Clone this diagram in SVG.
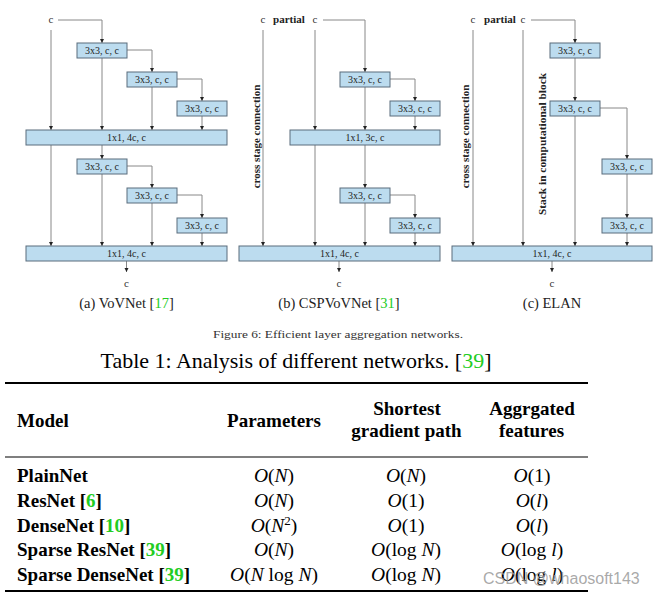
<svg xmlns="http://www.w3.org/2000/svg" width="657" height="597" viewBox="0 0 657 597">
<style>
.bx{fill:#bcdcef;stroke:#5a6c7c;stroke-width:1}
.bt{font-family:"Liberation Serif",serif;font-size:10px;fill:#222;text-anchor:middle}
.cl{font-family:"Liberation Serif",serif;font-size:11px;fill:#333;text-anchor:middle}
.pb{font-family:"Liberation Serif",serif;font-size:11px;font-weight:bold;fill:#222;text-anchor:middle}
.ln{fill:none;stroke:#888;stroke-width:1}
.ar{marker-end:url(#ah)}
.cap{font-family:"Liberation Serif",serif;font-size:14.5px;fill:#222;text-anchor:middle}
.g{fill:#22cc22}
.th{font-family:"Liberation Serif",serif;font-size:19px;font-weight:bold;fill:#000}
.tm{font-family:"Liberation Serif",serif;font-size:19.5px;fill:#000;text-anchor:middle}
.it{font-style:italic}
.rule{stroke:#000}
</style>
<defs>
<marker id="ah" viewBox="0 0 6 6" refX="6" refY="3" markerWidth="4.5" markerHeight="4.5" markerUnits="userSpaceOnUse" orient="auto">
<path d="M0,0 L6,3 L0,6 z" fill="#222"/>
</marker>
</defs>

<g id="connectors">
<!-- (a) -->
<path class="ln ar" d="M58,20 H102 V43"/>
<path class="ln ar" d="M51,30 V130"/>
<path class="ln ar" d="M102,58 V130"/>
<path class="ln ar" d="M127,50 H152 V72"/>
<path class="ln ar" d="M152,87 V130"/>
<path class="ln ar" d="M177,79 H202 V101"/>
<path class="ln ar" d="M202,116 V130"/>
<path class="ln ar" d="M51,145 V246"/>
<path class="ln ar" d="M102,145 V159"/>
<path class="ln ar" d="M127,166 H152 V188"/>
<path class="ln ar" d="M177,195 H202 V218"/>
<path class="ln ar" d="M102,174 V246"/>
<path class="ln ar" d="M152,203 V246"/>
<path class="ln ar" d="M202,233 V246"/>
<path class="ln ar" d="M126.5,261 V272"/>
<!-- (b) -->
<path class="ln ar" d="M323,20 H365 V72"/>
<path class="ln ar" d="M263,30 V246"/>
<path class="ln ar" d="M315,30 V130"/>
<path class="ln ar" d="M365,87 V130"/>
<path class="ln ar" d="M390,79 H415 V101"/>
<path class="ln ar" d="M415,116 V130"/>
<path class="ln ar" d="M315,145 V246"/>
<path class="ln ar" d="M365,145 V188"/>
<path class="ln ar" d="M390,195 H415 V218"/>
<path class="ln ar" d="M365,203 V246"/>
<path class="ln ar" d="M415,233 V246"/>
<path class="ln ar" d="M339,261 V272"/>
<!-- (c) -->
<path class="ln ar" d="M531,20 H575 V43"/>
<path class="ln ar" d="M473,30 V246"/>
<path class="ln ar" d="M523,30 V246"/>
<path class="ln ar" d="M575,58 V101"/>
<path class="ln ar" d="M600,108 H627 V159"/>
<path class="ln ar" d="M575,116 V246"/>
<path class="ln ar" d="M627,174 V218"/>
<path class="ln ar" d="M627,233 V246"/>
<path class="ln ar" d="M552,261 V272"/>
</g>

<!-- (a) VoVNet -->
<g id="a-in"><text class="cl" x="51" y="23">c</text></g>
<g id="a-b1"><rect class="bx" x="77" y="43" width="50" height="15"/><text class="bt" x="102" y="54">3x3, c, c</text></g>
<g id="a-b2"><rect class="bx" x="127" y="72" width="50" height="15"/><text class="bt" x="152" y="83">3x3, c, c</text></g>
<g id="a-b3"><rect class="bx" x="177" y="101" width="50" height="15"/><text class="bt" x="202" y="112">3x3, c, c</text></g>
<g id="a-t1"><rect class="bx" x="26" y="130" width="201" height="15"/><text class="bt" x="126.5" y="141">1x1, 4c, c</text></g>
<g id="a-b4"><rect class="bx" x="77" y="159" width="50" height="15"/><text class="bt" x="102" y="170">3x3, c, c</text></g>
<g id="a-b5"><rect class="bx" x="127" y="188" width="50" height="15"/><text class="bt" x="152" y="199">3x3, c, c</text></g>
<g id="a-b6"><rect class="bx" x="177" y="218" width="50" height="15"/><text class="bt" x="202" y="229">3x3, c, c</text></g>
<g id="a-t2"><rect class="bx" x="26" y="246" width="201" height="15"/><text class="bt" x="126.5" y="257">1x1, 4c, c</text></g>
<g id="a-out"><text class="cl" x="126.5" y="287">c</text></g>
<text class="cap" x="126.5" y="308">(a) VoVNet [<tspan class="g">17</tspan>]</text>

<!-- (b) CSPVoVNet -->
<g id="b-in"><text class="cl" x="263" y="23">c</text><text class="pb" x="289" y="23">partial</text><text class="cl" x="315" y="23">c</text></g>
<text class="pb" transform="translate(260,136.5) rotate(-90)" x="0" y="0">cross stage connection</text>
<g id="b-b1"><rect class="bx" x="340" y="72" width="50" height="15"/><text class="bt" x="365" y="83">3x3, c, c</text></g>
<g id="b-b2"><rect class="bx" x="390" y="101" width="50" height="15"/><text class="bt" x="415" y="112">3x3, c, c</text></g>
<g id="b-t1"><rect class="bx" x="290" y="130" width="150" height="15"/><text class="bt" x="365" y="141">1x1, 3c, c</text></g>
<g id="b-b3"><rect class="bx" x="340" y="188" width="50" height="15"/><text class="bt" x="365" y="199">3x3, c, c</text></g>
<g id="b-b4"><rect class="bx" x="390" y="218" width="50" height="15"/><text class="bt" x="415" y="229">3x3, c, c</text></g>
<g id="b-t2"><rect class="bx" x="239" y="246" width="201" height="15"/><text class="bt" x="339.5" y="257">1x1, 4c, c</text></g>
<g id="b-out"><text class="cl" x="339" y="287">c</text></g>
<text class="cap" x="339" y="308">(b) CSPVoVNet [<tspan class="g">31</tspan>]</text>

<!-- (c) ELAN -->
<g id="c-in"><text class="cl" x="473" y="23">c</text><text class="pb" x="500" y="23">partial</text><text class="cl" x="523" y="23">c</text></g>
<text class="pb" transform="translate(469,136.5) rotate(-90)" x="0" y="0">cross stage connection</text>
<text class="pb" transform="translate(545.5,144) rotate(-90)" x="0" y="0" style="font-size:11.4px">Stack in computational block</text>
<g id="c-b1"><rect class="bx" x="550" y="43" width="50" height="15"/><text class="bt" x="575" y="54">3x3, c, c</text></g>
<g id="c-b2"><rect class="bx" x="550" y="101" width="50" height="15"/><text class="bt" x="575" y="112">3x3, c, c</text></g>
<g id="c-b3"><rect class="bx" x="602" y="159" width="50" height="15"/><text class="bt" x="627" y="170">3x3, c, c</text></g>
<g id="c-b4"><rect class="bx" x="602" y="218" width="50" height="15"/><text class="bt" x="627" y="229">3x3, c, c</text></g>
<g id="c-t1"><rect class="bx" x="452" y="246" width="200" height="15"/><text class="bt" x="552" y="257">1x1, 4c, c</text></g>
<g id="c-out"><text class="cl" x="552" y="287">c</text></g>
<text class="cap" x="552" y="308">(c) ELAN</text>

<!-- captions -->
<text x="338" y="338" text-anchor="middle" font-family="Liberation Serif, serif" font-size="11" fill="#333" textLength="250" lengthAdjust="spacingAndGlyphs">Figure 6: Efficient layer aggregation networks.</text>
<text x="296" y="368" text-anchor="middle" font-family="Liberation Serif, serif" font-size="22" fill="#000">Table 1: Analysis of different networks. [<tspan class="g">39</tspan>]</text>

<!-- table -->
<g id="table">
<line class="rule" x1="5" y1="383" x2="588" y2="383" stroke-width="2"/>
<line class="rule" x1="5" y1="457" x2="588" y2="457" stroke-width="1.2"/>
<line class="rule" x1="5" y1="591" x2="588" y2="591" stroke-width="2"/>
<text class="th" x="17" y="427">Model</text>
<text class="th" x="274" y="427" text-anchor="middle">Parameters</text>
<text class="th" x="407" y="415" text-anchor="middle">Shortest</text>
<text class="th" x="406.5" y="437" text-anchor="middle">gradient path</text>
<text class="th" x="532" y="415" text-anchor="middle">Aggrgated</text>
<text class="th" x="531.5" y="437" text-anchor="middle">features</text>

<text class="th" x="17" y="482">PlainNet</text>
<text class="th" x="17" y="507">ResNet [<tspan class="g">6</tspan>]</text>
<text class="th" x="17" y="532">DenseNet [<tspan class="g">10</tspan>]</text>
<text class="th" x="17" y="556">Sparse ResNet [<tspan class="g">39</tspan>]</text>
<text class="th" x="17" y="581">Sparse DenseNet [<tspan class="g">39</tspan>]</text>

<text class="tm" x="274" y="482"><tspan class="it">O</tspan>(<tspan class="it">N</tspan>)</text>
<text class="tm" x="274" y="507"><tspan class="it">O</tspan>(<tspan class="it">N</tspan>)</text>
<text class="tm" x="274" y="532"><tspan class="it">O</tspan>(<tspan class="it">N</tspan><tspan font-size="13" dy="-7">2</tspan><tspan dy="7">)</tspan></text>
<text class="tm" x="274" y="556"><tspan class="it">O</tspan>(<tspan class="it">N</tspan>)</text>
<text class="tm" x="274" y="581"><tspan class="it">O</tspan>(<tspan class="it">N</tspan> log <tspan class="it">N</tspan>)</text>

<text class="tm" x="406" y="482"><tspan class="it">O</tspan>(<tspan class="it">N</tspan>)</text>
<text class="tm" x="406" y="507"><tspan class="it">O</tspan>(1)</text>
<text class="tm" x="406" y="532"><tspan class="it">O</tspan>(1)</text>
<text class="tm" x="406" y="556"><tspan class="it">O</tspan>(log <tspan class="it">N</tspan>)</text>
<text class="tm" x="406" y="581"><tspan class="it">O</tspan>(log <tspan class="it">N</tspan>)</text>

<text class="tm" x="532" y="482"><tspan class="it">O</tspan>(1)</text>
<text class="tm" x="532" y="507"><tspan class="it">O</tspan>(<tspan class="it">l</tspan>)</text>
<text class="tm" x="532" y="532"><tspan class="it">O</tspan>(<tspan class="it">l</tspan>)</text>
<text class="tm" x="532" y="556"><tspan class="it">O</tspan>(log <tspan class="it">l</tspan>)</text>
<text class="tm" x="532" y="581"><tspan class="it">O</tspan>(log <tspan class="it">l</tspan>)</text>
</g>

<text x="483" y="584" font-family="Liberation Sans, sans-serif" font-size="16" fill="#9a9a9a" fill-opacity="0.85">CSDN @whaosoft143</text>
</svg>
